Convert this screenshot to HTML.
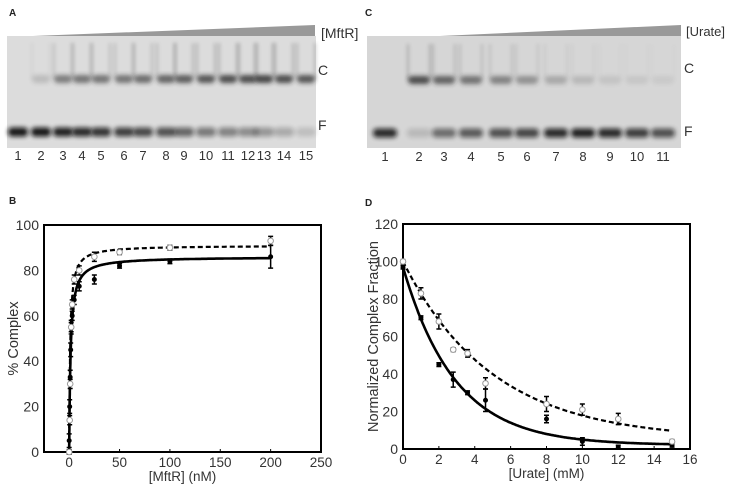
<!DOCTYPE html>
<html><head><meta charset="utf-8"><style>
body{margin:0;background:#fff;width:730px;height:485px;overflow:hidden;font-family:"Liberation Sans",sans-serif}
svg text{font-family:"Liberation Sans",sans-serif}
</style></head><body>
<svg id="fig" width="730" height="485" viewBox="0 0 730 485" xmlns="http://www.w3.org/2000/svg">
<defs>
<filter id="blur" x="-30%" y="-80%" width="160%" height="260%"><feGaussianBlur stdDeviation="2.4"/></filter>
<filter id="blur2" x="-30%" y="-30%" width="160%" height="160%"><feGaussianBlur stdDeviation="1.8"/></filter>
</defs>
<text x="9" y="16" font-size="10" font-weight="bold" fill="#222">A</text>
<text x="365" y="16" font-size="10" font-weight="bold" fill="#222">C</text>
<text x="9" y="204" font-size="10" font-weight="bold" fill="#222">B</text>
<text x="365" y="206" font-size="10" font-weight="bold" fill="#222">D</text>

<g id="gelA">
<polygon points="33,36 315,25 315,36" fill="#999"/>
<text x="321" y="38" font-size="14" fill="#333">[MftR]</text>
<rect x="7" y="36" width="309" height="112" fill="#dcdcdc"/>
<text x="318" y="75" font-size="14" fill="#333">C</text>
<text x="318" y="130" font-size="14" fill="#333">F</text>
</g>
<g id="gelC">
<polygon points="440,36 681,25 681,36" fill="#999"/>
<text x="686" y="36" font-size="13" fill="#333">[Urate]</text>
<rect x="367" y="36" width="314" height="112" fill="#d6d6d6"/>
<text x="684" y="73" font-size="14" fill="#333">C</text>
<text x="684" y="136" font-size="14" fill="#333">F</text>
</g>
<g id="chartB"></g>
<g id="chartD"></g>
</svg>
<script>
const NS="http://www.w3.org/2000/svg";
function mk(parent,tag,attrs,txt){const e=document.createElementNS(NS,tag);for(const k in attrs)e.setAttribute(k,attrs[k]);if(txt!==undefined)e.textContent=txt;parent.appendChild(e);return e;}

// ---- Gel data ----
const gelALanes=["1","2","3","4","5","6","7","8","9","10","11","12","13","14","15"];
const gelALaneX=[18,41,63,82,101,124,143,166,184,206,228,248,264,284,306];
const gelAComplex=[0,0.2,0.6,0.65,0.65,0.65,0.7,0.75,0.8,0.85,0.9,0.9,0.95,0.9,0.85];
const gelAFree=[1,1,0.95,0.9,0.85,0.8,0.75,0.7,0.6,0.5,0.45,0.4,0.35,0.25,0.15];
const gelCLanes=["1","2","3","4","5","6","7","8","9","10","11"];
const gelCLaneX=[385,419,444,471,501,527,556,583,610,637,663];
const gelCComplex=[0,0.9,0.75,0.65,0.55,0.45,0.3,0.2,0.12,0.1,0.08];
const gelCFree=[0.9,0.15,0.55,0.65,0.7,0.75,0.9,0.95,0.9,0.8,0.7];

function drawGel(g,lanes,xs,cpx,free,cy,fy,ly,w){
  lanes.forEach((l,i)=>{
    const x=xs[i];
    if(cpx[i]>0){
      const s=mk(g,'path',{d:`M${x-w/2},${cy-36}V${cy}M${x+w/2},${cy-36}V${cy}`,fill:'none',stroke:'#888',"stroke-width":2.5,opacity:cpx[i]*0.5,filter:'url(#blur2)'});
      
      
      const b=mk(g,'rect',{x:x-w/2,y:cy-4,width:w,height:8,rx:4,fill:'#222',opacity:cpx[i]*0.85,filter:'url(#blur)'});
      
      
    }
    const f=mk(g,'rect',{x:x-w/2-1,y:fy-4.5,width:w+2,height:9,rx:4,fill:'#111',opacity:free[i]*0.95,filter:'url(#blur)'});
    
    
    const t=mk(g,'text',{x:x,y:ly,"font-size":13,fill:'#333',"text-anchor":'middle'},l);
    
    
  });
}
drawGel(document.getElementById('gelA'),gelALanes,gelALaneX,gelAComplex,gelAFree,79,132,160,18);
drawGel(document.getElementById('gelC'),gelCLanes,gelCLaneX,gelCComplex,gelCFree,80,133,161,22);

// ---- Chart B data ----
const bXTicks=[0,50,100,150,200,250];
const bYTicks=[0,20,40,60,80,100];
const bSolidX=[0,0.5,1,1.5,2,3,5,10,25,50,100,200];
const bSolidY=[5,20,33,45,55,60,67,73,76,82,84,86];
const bSolidErr=[3,3,3,3,3,2,2,2,2,1,1,5];
const bDashX=[0,0.5,1,2,3,5,10,25,50,100,200];
const bDashY=[0,14,30,55,65,76,80,86,88,90,93];
const bDashErr=[1,2,2,2,2,2,2,2,1,1,2];
const bSolidFit=[86,1.4]; // Bmax, Kd
const bDashFit=[91,1.0];

// ---- Chart D data ----
const dXTicks=[0,2,4,6,8,10,12,14,16];
const dYTicks=[0,20,40,60,80,100,120];
const dSolidX=[0,1,2,2.8,3.6,4.6,8,10,12,15];
const dSolidY=[97,70,45,37,30,26,16,4,1,2];
const dSolidErr=[1,1,1,4,1,6,2,2,1,1];
const dDashX=[0,1,2,2.8,3.6,4.6,8,10,12,15];
const dDashY=[100,83,68,53,51,35,24,21,16,4];
const dDashErr=[1,3,4,1,2,3,4,3,3,1];
const dSolidFit=[95,2.9,2]; // A, tau, offset
const dDashFit=[95,5,5];

function chart(g,o){
  const sx=v=>o.x0+(v-o.xmin)/(o.xmax-o.xmin)*(o.x1-o.x0);
  const sy=v=>o.y0-(v-o.ymin)/(o.ymax-o.ymin)*(o.y0-o.y1);
  const fr=mk(g,'rect',{x:o.x0,y:o.y1,width:o.x1-o.x0,height:o.y0-o.y1,fill:'none',stroke:'#000',"stroke-width":2});
  
  
  o.xt.forEach(v=>{
    const t=mk(g,'text',{x:sx(v),y:o.y0+15,"font-size":13.5,fill:'#333',"text-anchor":'middle'},String(v));
    
    
    mk(g,'line',{x1:sx(v),x2:sx(v),y1:o.y0,y2:o.y0-3,stroke:'#000'});
  });
  o.yt.forEach(v=>{
    const t=mk(g,'text',{x:o.x0-5,y:sy(v)+5,"font-size":14,fill:'#333',"text-anchor":'end'},String(v));
    
    
  });
  const xl=mk(g,'text',{x:(o.x0+o.x1)/2,y:o.y0+29,"font-size":13.5,fill:'#333',"text-anchor":'middle'},o.xlabel);
  
  
  const yl=mk(g,'text',{x:0,y:0,"font-size":14.5,fill:'#333',"text-anchor":'middle',transform:`translate(${o.ylx},${(o.y0+o.y1)/2}) rotate(-90)`},o.ylabel);
  
  
  o.series.forEach(s=>{
    let d='';
    for(let i=0;i<=300;i++){const x=s.fxmin+(s.fxmax-s.fxmin)*Math.pow(i/300,s.pw);d+=(i?'L':'M')+sx(x).toFixed(1)+','+sy(s.f(x)).toFixed(1);}
    const p=mk(g,'path',{d:d,fill:'none',stroke:'#000',"stroke-width":s.dash?2.2:2.6,"stroke-dasharray":s.dash?'5,3':'none'});
    
    
    s.x.forEach((xv,i)=>{
      const cx=sx(xv),cy=sy(s.y[i]),e=s.e[i]*(o.y0-o.y1)/(o.ymax-o.ymin);
      const eb=mk(g,'path',{d:`M${cx},${cy-e}V${cy+e}M${cx-2.5},${cy-e}H${cx+2.5}M${cx-2.5},${cy+e}H${cx+2.5}`,stroke:'#000',"stroke-width":1.5});
      
      
      const m=mk(g,'circle',{cx:cx,cy:cy,r:s.dash?2.8:2,fill:s.dash?'#fff':'#000',stroke:s.dash?'#999':'#000',"stroke-width":1});
      
      
    });
  });
}
chart(document.getElementById('chartB'),{x0:44,x1:321,y0:452,y1:225,xmin:-25,xmax:250,ymin:0,ymax:100,xt:bXTicks,yt:bYTicks,
 xlabel:'[MftR] (nM)',ylabel:'% Complex',ylx:18,
 series:[
  {name:'solid',x:bSolidX,y:bSolidY,e:bSolidErr,dash:false,fxmin:0,fxmax:200,pw:3,f:x=>bSolidFit[0]*x/(x+bSolidFit[1])},
  {name:'dashed',x:bDashX,y:bDashY,e:bDashErr,dash:true,fxmin:0,fxmax:200,pw:3,f:x=>bDashFit[0]*x/(x+bDashFit[1])}]});
chart(document.getElementById('chartD'),{x0:403,x1:690,y0:449,y1:224,xmin:0,xmax:16,ymin:0,ymax:120,xt:dXTicks,yt:dYTicks,
 xlabel:'[Urate] (mM)',ylabel:'Normalized Complex Fraction',ylx:378,
 series:[
  {name:'solid',x:dSolidX,y:dSolidY,e:dSolidErr,dash:false,fxmin:0,fxmax:15,pw:1,f:x=>dSolidFit[0]*Math.exp(-x/dSolidFit[1])+dSolidFit[2]},
  {name:'dashed',x:dDashX,y:dDashY,e:dDashErr,dash:true,fxmin:0,fxmax:15,pw:1,f:x=>dDashFit[0]*Math.exp(-x/dDashFit[1])+dDashFit[2]}]});
</script>
</body></html>
